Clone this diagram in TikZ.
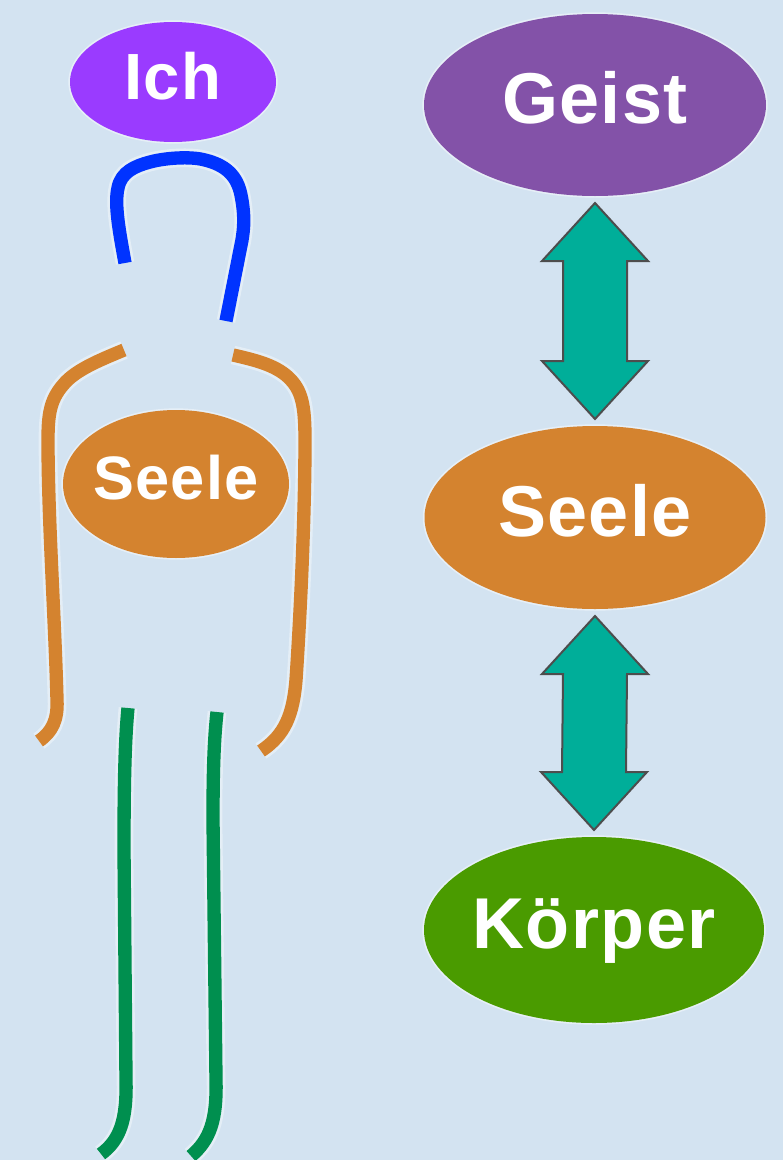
\documentclass[tikz,border=0pt]{standalone}
\usepackage{fontspec}
\newfontfamily\labelfont{Liberation Sans}[LetterSpace=2]
\usetikzlibrary{calc,shapes.geometric}

\definecolor{paper}{HTML}{D3E3F1}
\definecolor{ichviolet}{HTML}{9A3BFF}
\definecolor{geistviolet}{HTML}{8352A8}
\definecolor{seeleorange}{HTML}{D4832F}
\definecolor{koerpergreen}{HTML}{4A9B00}
\definecolor{headblue}{HTML}{0033FF}
\definecolor{leggreen}{HTML}{008F4F}
\definecolor{linkteal}{HTML}{00AE99}
\definecolor{linkedge}{HTML}{4D4D4D}

\tikzset{
  blob/.style={ellipse, inner sep=0pt, outer sep=0pt, text=white,
    preaction={draw=white, line width=2.5pt, opacity=0.45}},
  bigtext/.style={font=\labelfont\bfseries\fontsize{54pt}{60pt}\selectfont,
    text height=39.4pt, text depth=11.3pt, inner xsep=-8pt},
  midtext/.style={font=\labelfont\bfseries\fontsize{49pt}{55pt}\selectfont,
    text height=35.8pt, text depth=10.3pt},
  smalltext/.style={font=\labelfont\bfseries\fontsize{46pt}{52pt}\selectfont,
    text height=33.6pt, text depth=9.7pt, inner xsep=-8pt},
  limb/.style={line width=10pt, line cap=butt, line join=round,
    preaction={draw=white, opacity=0.4, line width=14pt}},
  linkarrow/.style={fill=linkteal, draw=linkedge, line width=1.5pt, line join=miter},
}

% double-headed block arrow between two stacked nodes
\newcommand\twoway[2]{%
  \coordinate (tA) at ($(#1.south)+(0,7)$);
  \coordinate (tB) at ($(#2.north)+(0,-7)$);
  \draw[linkarrow] (tA) -- ($(tA)+(53,58)$) -- ($(tA)+(32,58)$)
    -- ($(tB)+(32,-58)$) -- ($(tB)+(53,-58)$) -- (tB)
    -- ($(tB)+(-53,-58)$) -- ($(tB)+(-32,-58)$)
    -- ($(tA)+(-32,58)$) -- ($(tA)+(-53,58)$) -- cycle;}

\begin{document}
\begin{tikzpicture}[x=0.75pt, y=-0.75pt]
  % paper
  \fill[paper] (0,0) rectangle (783,1160);
  \useasboundingbox (0,0) rectangle (783,1160);

  % stick figure: head
  \draw[limb, headblue] (125,263) .. controls (120,235) and (114,205) .. (118,188)
    .. controls (121,172) and (135,166) .. (150,162)
    .. controls (165,158) and (190,156) .. (205,160)
    .. controls (225,165) and (237,175) .. (241,195)
    .. controls (245,215) and (244,228) .. (242,240) -- (226,321);

  % arms
  \draw[limb, seeleorange] (124,350) .. controls (100,360) and (75,370) .. (63,385)
    .. controls (50,400) and (48,415) .. (48,440)
    .. controls (48,520) and (55,620) .. (57,700)
    .. controls (58,720) and (52,732) .. (39,741);
  \draw[limb, seeleorange] (233,355) .. controls (255,360) and (275,365) .. (288,377)
    .. controls (302,390) and (305,405) .. (305,440)
    .. controls (305,520) and (300,620) .. (296,680)
    .. controls (293,715) and (285,735) .. (261,751);

  % legs
  \draw[limb, leggreen] (128,708) .. controls (125,740) and (124,780) .. (124,850)
    -- (126,1080) .. controls (127,1120) and (120,1140) .. (101,1154);
  \draw[limb, leggreen] (217,712) .. controls (214,740) and (213,770) .. (213,820)
    -- (216,1080) .. controls (217,1120) and (210,1140) .. (191,1156);

  % labels on the figure
  \node[blob, midtext, fill=ichviolet, minimum width=154.5pt, minimum height=90pt]
    (ich) at (173,82) {Ich};
  \node[blob, smalltext, fill=seeleorange, minimum width=169.5pt, minimum height=111pt]
    (seeleL) at (176,484) {Seele};

  % the three-level chain
  \node[blob, bigtext, fill=geistviolet, minimum width=256.5pt, minimum height=136.5pt]
    (geist) at (595,105) {Geist};
  \node[blob, bigtext, fill=seeleorange, minimum width=255.75pt, minimum height=137.25pt]
    (seeleR) at (595,517.5) {Seele};
  \node[blob, bigtext, fill=koerpergreen, minimum width=255pt, minimum height=139.5pt]
    (koerper) at (594,930) {Körper};

  \twoway{geist}{seeleR}
  \twoway{seeleR}{koerper}
\end{tikzpicture}
\end{document}
